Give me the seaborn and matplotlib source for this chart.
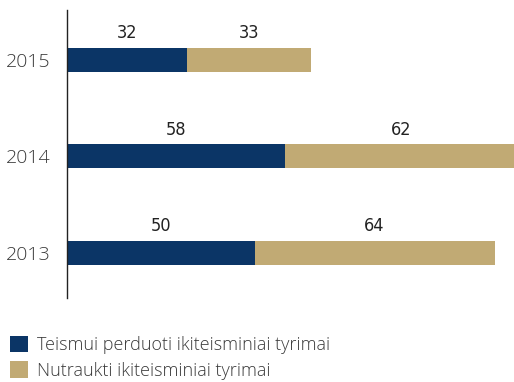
import matplotlib
matplotlib.use("Agg")
import matplotlib.pyplot as plt
from matplotlib.patches import Patch
import seaborn as sns
import pandas as pd

years = ["2015", "2014", "2013"]
transferred = [32, 58, 50]
terminated = [33, 62, 64]
series_names = ["Teismui perduoti ikiteisminiai tyrimai",
                "Nutraukti ikiteisminiai tyrimai"]
navy = "#0b3566"
tan = "#c1aa74"

df = pd.DataFrame({"year": years, "transferred": transferred,
                   "terminated": terminated})
df["total"] = df["transferred"] + df["terminated"]

sns.set_style("white")
plt.rcParams["font.family"] = ["Open Sans", "DejaVu Sans"]

fig = plt.figure(figsize=(5.14, 3.82), dpi=100)
ax = fig.add_axes([67 / 514, 1 - 298 / 382, 1 - 67 / 514, (298 - 10) / 382])

bar_h = 0.25
sns.barplot(data=df, x="total", y="year", order=years, color=tan,
            width=bar_h, orient="h", ax=ax, saturation=1, linewidth=0)
sns.barplot(data=df, x="transferred", y="year", order=years, color=navy,
            width=bar_h, orient="h", ax=ax, saturation=1, linewidth=0)

label_font = dict(family="DejaVu Sans", stretch="condensed",
                  fontsize=13, color="#222222", ha="center", va="bottom")
for i, (a, b) in enumerate(zip(transferred, terminated)):
    y = i - bar_h / 2 - 0.06
    ax.text(a / 2, y, str(a), **label_font)
    ax.text(a + b / 2, y, str(b), **label_font)

ax.set_xlim(0, (514 - 67) / 3.75)
ax.set_ylim(2.47, -0.52)
ax.set_xlabel("")
ax.set_ylabel("")
ax.set_xticks([])
ax.tick_params(axis="y", length=0, pad=12)
for lbl in ax.get_yticklabels():
    lbl.set_fontsize(14)
    lbl.set_color("#3a3a3a")
    lbl.set_fontweight("light")
for side in ["top", "right", "bottom"]:
    ax.spines[side].set_visible(False)
ax.spines["left"].set_color("#222222")
ax.spines["left"].set_linewidth(1)
ax.patch.set_alpha(0)

handles = [Patch(facecolor=navy, edgecolor="none"),
           Patch(facecolor=tan, edgecolor="none")]
fig.legend(handles, series_names, loc="upper left",
           bbox_to_anchor=(10 / 514, 1 - 336 / 382), frameon=False,
           borderpad=0, borderaxespad=0, handlelength=1.0, handleheight=1.0,
           handletextpad=0.5, labelspacing=0.4,
           prop=dict(family="Open Sans", size=13, weight="light"),
           labelcolor="#3a3a3a")

fig.savefig("out.png", dpi=100)
